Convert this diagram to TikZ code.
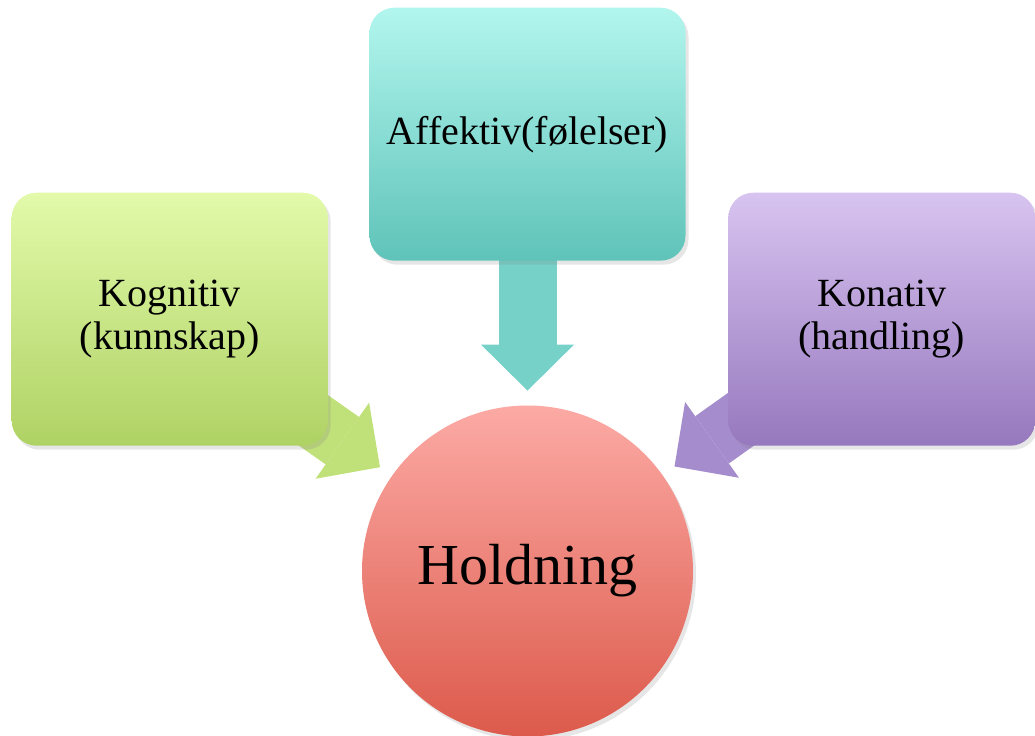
\documentclass[tikz,border=0pt]{standalone}
\usepackage{fontspec}
\setmainfont{Liberation Serif}
\usetikzlibrary{arrows.meta, positioning, backgrounds, shadows}
\definecolor{KognTop}{RGB}{226, 250, 170}
\definecolor{KognBottom}{RGB}{175, 210, 100}
\definecolor{AffTop}{RGB}{178, 246, 238}
\definecolor{AffBottom}{RGB}{95, 195, 185}
\definecolor{KonTop}{RGB}{216, 196, 240}
\definecolor{KonBottom}{RGB}{150, 120, 190}
\definecolor{HoldTop}{RGB}{252, 170, 165}
\definecolor{HoldBottom}{RGB}{220, 90, 75}
\definecolor{KognArrow}{RGB}{192, 224, 122}
\definecolor{AffArrow}{RGB}{118, 210, 200}
\definecolor{KonArrow}{RGB}{165, 140, 205}

\begin{document}
\begin{tikzpicture}[
        component/.style={rectangle, rounded corners=12.5pt, minimum width=158pt, minimum height=126.5pt, inner sep=0pt, align=center, font=\fontsize{20}{21.5}\selectfont, drop shadow={shadow xshift=1.5pt, shadow yshift=-2pt, opacity=0.2}},
        attitude/.style={circle, minimum size=165.5pt, inner sep=0pt, font=\fontsize{29}{32}\selectfont, drop shadow={shadow xshift=1.5pt, shadow yshift=-2pt, opacity=0.2}},
        blockarrow/.style={line width=29pt, -{Triangle[width=46.5pt 0, length=23pt 0, line width=0pt 0]}, shorten >=7.25pt}
    ]
        \useasboundingbox (0,0) rectangle (517.5pt, 367.5pt);
        \node (hold) [attitude, top color=HoldTop, bottom color=HoldBottom] at (263.75pt, 82pt) {Holdning};
        \node (affekt) [component, top color=AffTop, bottom color=AffBottom, above=72pt of hold] {Affektiv(følelser)};
        \node (kogn) [component, top color=KognTop, bottom color=KognBottom, below left=92.5pt and 20.5pt of affekt.north west] {Kognitiv\\(kunnskap)};
        \node (konat) [component, minimum width=153.5pt, top color=KonTop, bottom color=KonBottom, below right=92.5pt and 21pt of affekt.north east] {Konativ\\(handling)};

        \begin{scope}[on background layer]
            \draw [blockarrow, KognArrow] (kogn.center) -- (hold);
            \draw [blockarrow, AffArrow] (affekt.center) -- (hold);
            \draw [blockarrow, KonArrow] (konat.center) -- (hold);
        \end{scope}
    \end{tikzpicture}
\end{document}
